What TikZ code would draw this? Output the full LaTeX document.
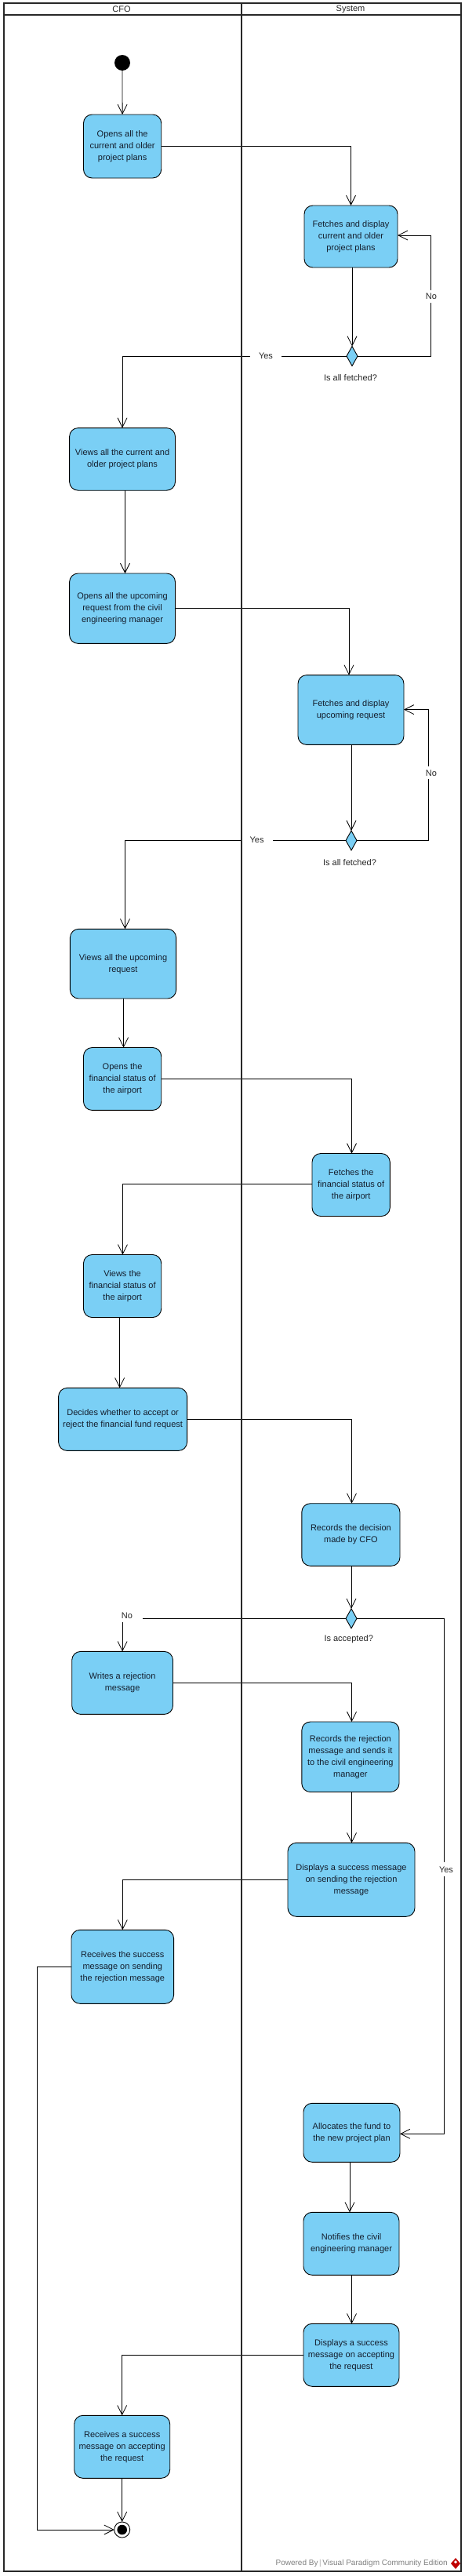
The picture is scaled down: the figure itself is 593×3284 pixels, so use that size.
\documentclass[tikz,border=0pt]{standalone}
\usepackage{fontspec}
\setmainfont{Liberation Sans}
\usetikzlibrary{shapes.geometric,arrows.meta,calc}
\definecolor{actfill}{RGB}{122,207,245}
\definecolor{frameline}{RGB}{40,40,40}
\definecolor{txt}{RGB}{20,30,45}
\tikzset{
  x=1pt,y=-1pt,
  actbox/.style={draw=black,fill=actfill,rounded corners=11pt,line width=0.9pt,align=center,inner sep=0pt,outer sep=0pt,text=txt,font=\fontsize{11}{15}\selectfont},
  decide/.style={diamond,draw=black,fill=actfill,line width=0.9pt,minimum width=14pt,minimum height=25pt,inner sep=0pt,outer sep=0pt},
  flow/.style={draw=black,line width=0.9pt,-{Straight Barb[length=12pt,width=12pt,line width=0.8pt]}},
  lbl/.style={fill=white,inner sep=0pt,font=\fontsize{11}{13}\selectfont,text=black!85},
  capt/.style={inner sep=0pt,font=\fontsize{11}{13}\selectfont,text=black!85},
  lane/.style={draw=frameline,line width=2pt},
}
\newcommand{\act}[6]{\node[actbox,minimum width={(#4)-(#2)},minimum height={(#5)-(#3)}] (#1) at ({((#2)+(#4))/2},{((#3)+(#5))/2}) {#6};}
\begin{document}
\begin{tikzpicture}
\useasboundingbox (0,0) rectangle (593,3284);
\fill[white] (0,0) rectangle (593,3284);
% nodes
\node[circle,fill=black,minimum size=20pt,inner sep=0pt,outer sep=0pt] (start) at (156,80) {};
\act{a1}{106.5}{146}{205.7}{227}{Opens all the\\current and older\\project plans}
\act{f1}{388}{262}{507}{341}{Fetches and display\\current and older\\project plans}
\node[decide] (d1) at (449,454) {};
\node[capt] (q1) at (447,482) {Is all fetched?};
\act{a2}{88.6}{545.6}{223.5}{625.2}{Views all the current and\\older project plans}
\act{a3}{88.6}{731}{223.5}{820.4}{Opens all the upcoming\\request from the civil\\engineering manager}
\act{f2}{380}{860.6}{515}{949.4}{Fetches and display\\upcoming request}
\node[decide] (d2) at (448,1071.5) {};
\node[capt] (q2) at (446,1099.4) {Is all fetched?};
\act{a4}{89.4}{1184.3}{224.6}{1273}{Views all the upcoming\\request}
\act{a5}{106.5}{1335.5}{205.7}{1415.4}{Opens the\\financial status of\\the airport}
\act{f3}{398}{1470.5}{497.3}{1550.5}{Fetches the\\financial status of\\the airport}
\act{a6}{106.5}{1599.5}{205.7}{1679.5}{Views the\\financial status of\\the airport}
\act{a7}{74.6}{1769.4}{238.6}{1849.4}{Decides whether to accept or\\reject the financial fund request}
\act{a8}{384.8}{1916.7}{510}{1996.3}{Records the decision\\made by CFO}
\node[decide] (d3) at (448,2063.3) {};
\node[capt] (q3) at (444.7,2090) {Is accepted?};
\act{a9}{91.7}{2105.4}{220.5}{2185.4}{Writes a rejection\\message}
\act{a10}{384.8}{2195}{509}{2284.5}{Records the rejection\\message and sends it\\to the civil engineering\\manager}
\act{a11}{367}{2349.3}{529}{2443.3}{Displays a success message\\on sending the rejection\\message}
\act{a12}{91}{2460.3}{221.6}{2554.3}{Receives the success\\message on sending\\the rejection message}
\act{a13}{387}{2681.3}{510}{2756.3}{Allocates the fund to\\the new project plan}
\act{a14}{387}{2820.3}{509}{2900.3}{Notifies the civil\\engineering manager}
\act{a15}{387}{2962.3}{509}{3042.3}{Displays a success\\message on accepting\\the request}
\act{a16}{94.7}{3079.3}{216.7}{3159.3}{Receives a success\\message on accepting\\the request}
\node[circle,draw=black,fill=white,line width=0.9pt,minimum size=20pt,inner sep=0pt,outer sep=0pt] (end) at (155.7,3225) {};
\fill[black] (end) circle (6.3pt);
% connectors
\draw[flow] (start) -- (a1);
\draw[flow] (a1.east) -| (f1.north);
\draw[flow] (d1 |- f1.south) -- (d1.north);
\draw[flow] (d1.east) -- (549,454) |- (f1.east |- 0,300);
\draw[flow] (d1.west) -| (a2.north);
\draw[flow] (159.5,0 |- a2.south) -- (159.5,0 |- a3.north);
\draw[flow] (a3.east) -| (445,0 |- f2.north);
\draw[flow] (d2 |- f2.south) -- (d2.north);
\draw[flow] (d2.east) -- (546,1071.5) |- (f2.east |- 0,904.6);
\draw[flow] (d2.west) -| (159.5,0 |- a4.north);
\draw[flow] (157.6,0 |- a4.south) -- (157.6,0 |- a5.north);
\draw[flow] (a5.east) -| (448.5,0 |- f3.north);
\draw[flow] (f3.west |- 0,1509.6) -| (156.4,0 |- a6.north);
\draw[flow] (152.6,0 |- a6.south) -- (152.6,0 |- a7.north);
\draw[flow] (a7.east) -| (448.5,0 |- a8.north);
\draw[flow] (d3 |- a8.south) -- (d3.north);
\draw[flow] (d3.west) -| (a9.north);
\draw[flow] (d3.east) -- (566,2063.3) |- (a13.east |- 0,2720.3);
\draw[flow] (a9.east) -| (448.5,0 |- a10.north);
\draw[flow] (448.5,0 |- a10.south) -- (448.5,0 |- a11.north);
\draw[flow] (a11.west) -| (a12.north);
\draw[flow] (a12.west) -- (47.3,0 |- a12.west) |- (end.west);
\draw[flow] (446,0 |- a13.south) -- (446,0 |- a14.north);
\draw[flow] (448.5,0 |- a14.south) -- (448.5,0 |- a15.north);
\draw[flow] (a15.west) -| (a16.north);
\draw[flow] (a16.south) -- (end.north);
% connector labels
\node[lbl,minimum width=40pt,minimum height=14pt] (yes1) at (339,454) {Yes};
\node[lbl,minimum height=16pt,minimum width=14pt] (no1) at (550,378) {No};
\node[lbl,minimum width=41pt,minimum height=14pt] (yes2) at (327.6,1071) {Yes};
\node[lbl,minimum height=16pt,minimum width=14pt] (no2) at (550,985.4) {No};
\node[lbl,minimum width=40pt,minimum height=15pt] (no3) at (162,2060) {No};
\node[lbl,minimum width=20pt,minimum height=18pt] (yes3) at (569,2383.3) {Yes};
% swimlanes
\draw[lane] (4.5,4.5) rectangle (587.5,3278.3);
\draw[lane] (4.5,19.5) -- (587.5,19.5);
\draw[lane] (307.5,4.5) -- (307.5,3278.3);
\node[capt] (cfo) at (155,12) {CFO};
\node[capt] (sys) at (447,12) {System};
% footer
\node[inner sep=0pt,anchor=east,font=\fontsize{10}{12}\selectfont,text=black!50] (pw) at (571,3268) {Powered By\,{\color{black!30}|}\,Visual Paradigm Community Edition};
\fill[red!75!black] (575,3268) -- (581,3261) -- (587,3268) -- (581,3275) -- cycle;
\fill[white] (579,3266) -- (581,3264) -- (583,3266) -- (581,3268) -- cycle;
\end{tikzpicture}
\end{document}
